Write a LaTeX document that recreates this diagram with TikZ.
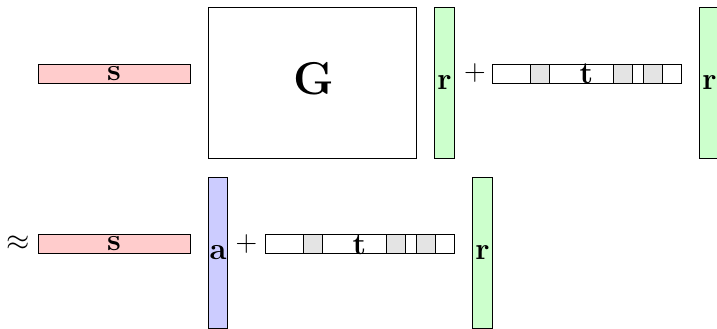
\RequirePackage{fix-cm}
\documentclass[tikz,border=0pt]{standalone}
\definecolor{sred}{RGB}{255,204,204}
\definecolor{sgreen}{RGB}{204,255,204}
\definecolor{sblue}{RGB}{204,204,255}
\definecolor{cellgray}{RGB}{228,228,228}
\begin{document}
\begin{tikzpicture}[x=1pt,y=-1pt,line width=0.9pt,
  bar/.style={draw=black,rectangle,inner sep=0pt,outer sep=0pt},
  hbar/.style={bar,minimum width=#1,minimum height=19pt},
  vbar/.style={bar,minimum width=19.5pt,minimum height=151pt},
  cell/.style={bar,fill=cellgray,minimum width=19pt,minimum height=19pt},
  lbl/.style={inner sep=0pt,font=\fontsize{31}{36}\selectfont\bfseries,anchor=base},
  op/.style={inner sep=0pt,font=\fontsize{30}{36}\selectfont}]
\useasboundingbox (0,0) rectangle (717,329);
% top row
\node[hbar=152pt,fill=sred] (s1) at (114,73.5) {};
\node[bar,minimum width=208pt,minimum height=151pt] (G) at (312,82.5) {};
\node[vbar,fill=sgreen] (r1) at (444.5,82.5) {};
\node[op] (p1) at (475,73.5) {$+$};
\node[hbar=189pt] (t1) at (586.5,73.5) {};
\node[cell] (t1a) at ([xshift=47.5pt]t1.west) {};
\node[cell] (t1b) at ([xshift=130.5pt]t1.west) {};
\node[cell] (t1c) at ([xshift=160.5pt]t1.west) {};
\node[vbar,fill=sgreen] (r2) at (709.5,82.5) {};
\node[lbl] (ls1) at (114,80.4) {s};
\node[lbl,font=\fontsize{46}{52}\selectfont\bfseries] (lG) at (314,94) {G};
\node[lbl] (lr1) at (444.5,89.4) {r};
\node[lbl] (lt1) at (586.5,84) {t};
\node[lbl] (lr2) at (709.5,89.4) {r};
% bottom row
\node[op] (ap) at (18,243.5) {$\approx$};
\node[hbar=152pt,fill=sred] (s2) at (114,243.5) {};
\node[vbar,fill=sblue] (a) at (218,252.5) {};
\node[op] (p2) at (246.5,243.5) {$+$};
\node[hbar=189pt] (t2) at (359.5,243.5) {};
\node[cell] (t2a) at ([xshift=47.5pt]t2.west) {};
\node[cell] (t2b) at ([xshift=130.5pt]t2.west) {};
\node[cell] (t2c) at ([xshift=160.5pt]t2.west) {};
\node[vbar,fill=sgreen] (r3) at (482.5,252.5) {};
\node[lbl] (ls2) at (114,250.4) {s};
\node[lbl] (la) at (218,259.4) {a};
\node[lbl] (lt2) at (359.5,254) {t};
\node[lbl] (lr3) at (482.5,259.4) {r};
\end{tikzpicture}
\end{document}
